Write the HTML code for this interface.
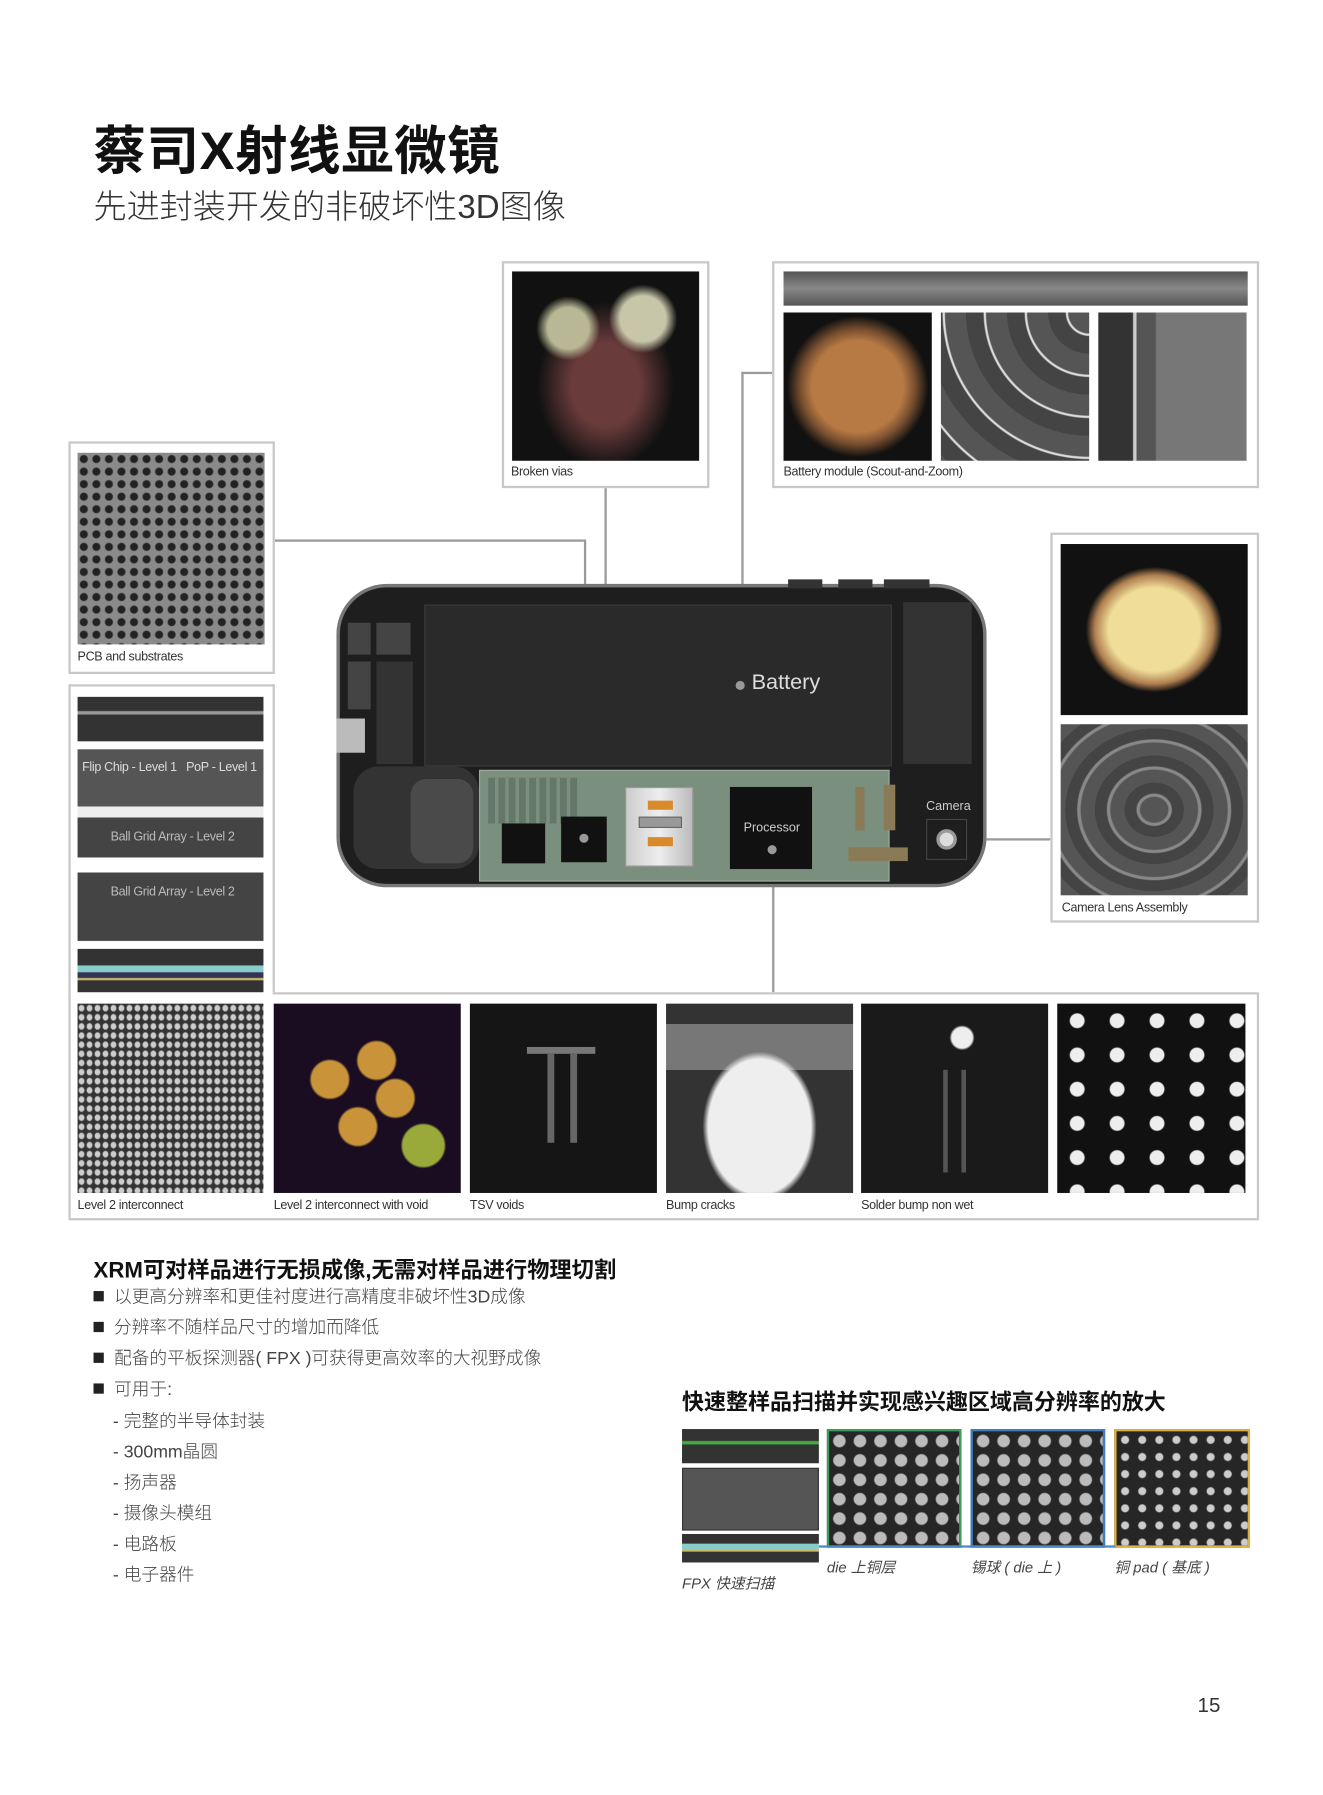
<!DOCTYPE html>
<html><head><meta charset="utf-8">
<style>
*{margin:0;padding:0;box-sizing:border-box}
html,body{width:1323px;height:1795px;overflow:hidden;background:#fff}
#w{position:absolute;left:0;top:0;width:1160px;height:1574px;transform:scale(1.1405);transform-origin:0 0;font-family:"Liberation Sans","Noto Sans CJK SC",sans-serif;color:#222}
.a{position:absolute}
.box{position:absolute;border:2px solid #c8c8c8;background:#fff}
.img{position:absolute;background:#222}
.cap{position:absolute;font-size:11px;color:#333;letter-spacing:-0.3px}
.ln{position:absolute;background:#9a9a9a}
.dot{position:absolute;width:8px;height:8px;border-radius:50%;background:#999}
.dots{background-color:#262626;background-image:radial-gradient(circle,#bbb 0 5px,transparent 6px);background-size:18px 17px}
.b{position:absolute;font-size:15.5px;color:#444;font-weight:300}
.b i{display:inline-block;width:9px;height:9px;background:#222;margin-right:9px;vertical-align:1px}
</style></head><body><div id="w">
<div class="a" style="left:82px;top:96px;font-size:46px;font-weight:bold;color:#111;letter-spacing:0.5px">蔡司X射线显微镜</div>
<div class="a" style="left:82px;top:158px;font-size:29px;font-weight:300;color:#333">先进封装开发的非破坏性3D图像</div>

<!-- connector lines -->
<div class="ln" style="left:240px;top:473px;width:272px;height:1.5px"></div>
<div class="ln" style="left:512px;top:473px;width:1.5px;height:262px"></div>
<div class="ln" style="left:530px;top:427px;width:1.5px;height:260px"></div>
<div class="ln" style="left:650px;top:326px;width:27px;height:1.5px"></div>
<div class="ln" style="left:650px;top:326px;width:1.5px;height:274px"></div>
<div class="ln" style="left:830px;top:735px;width:91px;height:1.5px"></div>
<div class="ln" style="left:677px;top:745px;width:1.5px;height:127px"></div>

<!-- Broken vias -->
<div class="box" style="left:440px;top:229px;width:182px;height:199px"></div>
<div class="img" style="left:449px;top:238px;width:164px;height:166px;background:radial-gradient(circle at 30% 30%,#b9b896 0 18px,transparent 28px),radial-gradient(circle at 70% 25%,#c8c6a8 0 20px,transparent 30px),radial-gradient(ellipse at 50% 60%,#6a3b3b 0 30px,transparent 60px),#111"></div>
<div class="cap" style="left:448px;top:408px">Broken vias</div>

<!-- Battery module -->
<div class="box" style="left:677px;top:229px;width:427px;height:199px"></div>
<div class="img" style="left:687px;top:238px;width:407px;height:30px;background:linear-gradient(#555,#888 50%,#555)"></div>
<div class="img" style="left:687px;top:274px;width:130px;height:130px;background:radial-gradient(ellipse at 50% 50%,#b77a44 0 40px,#7a5030 50px,transparent 62px),#111"></div>
<div class="img" style="left:825px;top:274px;width:130px;height:130px;background:repeating-radial-gradient(circle at 100% 0,#555 0 18px,#ddd 19px 20px,#444 21px 36px)"></div>
<div class="img" style="left:963px;top:274px;width:130px;height:130px;background:linear-gradient(90deg,#333 0 30px,#ccc 31px 33px,#555 34px 50px,#777 51px 130px)"></div>
<div class="cap" style="left:687px;top:408px">Battery module (Scout-and-Zoom)</div>

<!-- PCB -->
<div class="box" style="left:60px;top:387px;width:181px;height:204px"></div>
<div class="img dots" style="left:68px;top:397px;width:164px;height:168px;background-color:#8a8a8a;background-image:radial-gradient(circle,#222 0 3px,transparent 4px);background-size:11px 11px"></div>
<div class="cap" style="left:68px;top:570px">PCB and substrates</div>

<!-- left column + bottom -->
<div class="box" style="left:60px;top:600px;width:181px;height:280px;border-bottom:none"></div>
<div class="box" style="left:60px;top:870px;width:1044px;height:200px"></div>
<div class="a" style="left:62px;top:868px;width:177px;height:4px;background:#fff"></div>
<div class="img" style="left:68px;top:611px;width:163px;height:39px;background:linear-gradient(#333 0 12px,#999 13px 15px,#333 16px)"></div>
<div class="img" style="left:68px;top:657px;width:163px;height:168px;background:linear-gradient(#555 0 50px,#eee 50px 60px,#444 60px 95px,#fff 95px 108px,#444 108px)"></div>
<div class="cap" style="left:72px;top:667px;color:#ddd">Flip Chip - Level 1 &nbsp; PoP - Level 1</div>
<div class="cap" style="left:97px;top:728px;color:#bbb">Ball Grid Array - Level 2</div>
<div class="cap" style="left:97px;top:776px;color:#bbb">Ball Grid Array - Level 2</div>
<div class="img" style="left:68px;top:832px;width:163px;height:38px;background:linear-gradient(#333 0 14px,#8cc 15px 20px,#335 21px 25px,#cb6 26px 27px,#333 28px)"></div>

<div class="img" style="left:68px;top:880px;width:163px;height:166px;background-color:#333;background-image:radial-gradient(ellipse,#ccc 0 2px,transparent 3px);background-size:7px 8px"></div>
<div class="img" style="left:240px;top:880px;width:164px;height:166px;background:radial-gradient(circle at 30% 40%,#c9933a 0 16px,transparent 18px),radial-gradient(circle at 55% 30%,#c9933a 0 16px,transparent 18px),radial-gradient(circle at 45% 65%,#c9933a 0 16px,transparent 18px),radial-gradient(circle at 80% 75%,#9aaa3a 0 18px,transparent 20px),radial-gradient(circle at 65% 50%,#c9933a 0 16px,transparent 18px),#1a0d22"></div>
<div class="img" style="left:412px;top:880px;width:164px;height:166px;background:#151515"><div class="a" style="left:50px;top:38px;width:60px;height:6px;background:#777"></div><div class="a" style="left:68px;top:44px;width:6px;height:78px;background:#666"></div><div class="a" style="left:88px;top:44px;width:6px;height:78px;background:#666"></div></div>
<div class="img" style="left:584px;top:880px;width:164px;height:166px;background:radial-gradient(ellipse at 50% 65%,#eee 0 45px,transparent 50px),linear-gradient(#333 0 18px,#777 18px 58px,#333 58px)"></div>
<div class="img" style="left:755px;top:880px;width:164px;height:166px;background:radial-gradient(circle at 54% 18%,#eee 0 9px,transparent 11px),#1a1a1a"><div class="a" style="left:72px;top:58px;width:4px;height:90px;background:#555"></div><div class="a" style="left:88px;top:58px;width:4px;height:90px;background:#555"></div></div>
<div class="img" style="left:927px;top:880px;width:165px;height:166px;background-color:#111;background-image:radial-gradient(circle,#eee 0 6px,transparent 7px);background-size:35px 30px"></div>
<div class="cap" style="left:68px;top:1051px">Level 2 interconnect</div>
<div class="cap" style="left:240px;top:1051px">Level 2 interconnect with void</div>
<div class="cap" style="left:412px;top:1051px">TSV voids</div>
<div class="cap" style="left:584px;top:1051px">Bump cracks</div>
<div class="cap" style="left:755px;top:1051px">Solder bump non wet</div>

<!-- camera -->
<div class="box" style="left:921px;top:467px;width:183px;height:342px"></div>
<div class="img" style="left:930px;top:477px;width:164px;height:150px;background:radial-gradient(ellipse at 50% 50%,#f0dd99 0 40px,#b08050 52px,transparent 60px),#111"></div>
<div class="img" style="left:930px;top:635px;width:164px;height:150px;background:repeating-radial-gradient(ellipse at 50% 50%,#555 0 12px,#888 13px 15px,#444 16px 26px)"></div>
<div class="cap" style="left:931px;top:790px">Camera Lens Assembly</div>

<!-- phone -->
<div class="a" style="left:295px;top:512px;width:570px;height:266px;border-radius:44px;background:#1e1e1e;border:3px solid #777"></div>
<div class="a" style="left:691px;top:508px;width:30px;height:8px;background:#333"></div>
<div class="a" style="left:735px;top:508px;width:30px;height:8px;background:#333"></div>
<div class="a" style="left:775px;top:508px;width:40px;height:8px;background:#333"></div>
<div class="a" style="left:372px;top:530px;width:410px;height:142px;background:#2a2a2a;border:1px solid #3a3a3a"></div>
<div class="a" style="left:305px;top:546px;width:20px;height:28px;background:#444"></div>
<div class="a" style="left:330px;top:546px;width:30px;height:28px;background:#444"></div>
<div class="a" style="left:305px;top:580px;width:20px;height:42px;background:#444"></div>
<div class="a" style="left:330px;top:580px;width:32px;height:90px;background:#333"></div>
<div class="a" style="left:295px;top:630px;width:25px;height:30px;background:#bbb"></div>
<div class="a" style="left:310px;top:672px;width:110px;height:90px;border-radius:22px;background:#333"></div>
<div class="a" style="left:360px;top:683px;width:55px;height:74px;border-radius:14px;background:#4a4a4a"></div>
<div class="a" style="left:792px;top:528px;width:60px;height:142px;background:#333"></div>
<div class="dot" style="left:645px;top:597px"></div>
<div class="a" style="left:659px;top:588px;font-size:19px;color:#ddd">Battery</div>
<div class="a" style="left:420px;top:675px;width:360px;height:98px;background:#7b8f7e;border:1px solid #9aa99b"></div>
<div class="a" style="left:428px;top:682px;width:80px;height:40px;background-image:linear-gradient(90deg,transparent 6px,#7b8f7e 6px);background-size:9px 6px;background-color:#5c6e5f;opacity:.7"></div>
<div class="a" style="left:440px;top:722px;width:38px;height:35px;background:#111"></div>
<div class="a" style="left:492px;top:716px;width:40px;height:40px;background:#111"></div>
<div class="dot" style="left:508px;top:731px"></div>
<div class="a" style="left:548px;top:690px;width:60px;height:70px;background:linear-gradient(90deg,#ccc,#eee,#bbb);border:1px solid #999"></div>
<div class="a" style="left:568px;top:702px;width:22px;height:8px;background:#d98a2a"></div>
<div class="a" style="left:560px;top:716px;width:38px;height:10px;background:#999;border:1px solid #666"></div>
<div class="a" style="left:568px;top:734px;width:22px;height:8px;background:#d98a2a"></div>
<div class="a" style="left:640px;top:690px;width:72px;height:72px;background:#111"></div>
<div class="a" style="left:652px;top:720px;font-size:11px;color:#ccc">Processor</div>
<div class="dot" style="left:673px;top:741px"></div>
<div class="a" style="left:750px;top:690px;width:8px;height:38px;background:#8a7a55"></div>
<div class="a" style="left:775px;top:688px;width:10px;height:40px;background:#8a7a55"></div>
<div class="a" style="left:744px;top:743px;width:52px;height:12px;background:#8a7a55"></div>
<div class="a" style="left:812px;top:701px;font-size:11px;color:#ccc">Camera</div>
<div class="a" style="left:812px;top:718px;width:36px;height:36px;border:1px solid #444"></div>
<div class="a" style="left:821px;top:727px;width:18px;height:18px;border-radius:50%;background:#ddd;border:3px solid #999"></div>

<!-- text -->
<div class="a" style="left:82px;top:1097px;font-size:19.5px;font-weight:bold;color:#111">XRM可对样品进行无损成像,无需对样品进行物理切割</div>
<div class="b" style="left:82px;top:1125px"><i></i>以更高分辨率和更佳衬度进行高精度非破坏性3D成像</div>
<div class="b" style="left:82px;top:1152px"><i></i>分辨率不随样品尺寸的增加而降低</div>
<div class="b" style="left:82px;top:1179px"><i></i>配备的平板探测器( FPX )可获得更高效率的大视野成像</div>
<div class="b" style="left:82px;top:1206px"><i></i>可用于:</div>
<div class="b" style="left:99px;top:1234px">- 完整的半导体封装</div>
<div class="b" style="left:99px;top:1261px">- 300mm晶圆</div>
<div class="b" style="left:99px;top:1288px">- 扬声器</div>
<div class="b" style="left:99px;top:1315px">- 摄像头模组</div>
<div class="b" style="left:99px;top:1342px">- 电路板</div>
<div class="b" style="left:99px;top:1369px">- 电子器件</div>

<div class="a" style="left:598px;top:1214px;font-size:19.3px;font-weight:bold;color:#111">快速整样品扫描并实现感兴趣区域高分辨率的放大</div>
<div class="img" style="left:598px;top:1253px;width:120px;height:30px;background:linear-gradient(#333 0 10px,#4a4 11px 13px,#333 14px)"></div>
<div class="img" style="left:598px;top:1287px;width:120px;height:55px;background:#555;border:1px solid #333"></div>
<div class="img" style="left:598px;top:1345px;width:120px;height:25px;background:linear-gradient(#333 0 8px,#8cc 9px 13px,#cb6 14px 15px,#333 16px)"></div>
<div class="img dots" style="left:725px;top:1253px;width:118px;height:104px;border:2px solid #3c9c5c"></div>
<div class="img dots" style="left:851px;top:1253px;width:118px;height:104px;border:2px solid #3f7fc0"></div>
<div class="img dots" style="left:977px;top:1253px;width:119px;height:104px;border:2px solid #e0b040;background-image:radial-gradient(circle,#ccc 0 3px,transparent 4px);background-size:15px 15px"></div>
<div class="a" style="left:718px;top:1355px;width:260px;height:2px;background:#4a8acb"></div>
<div class="a" style="left:725px;top:1364px;font-size:13px;font-style:italic;color:#444">die 上铜层</div>
<div class="a" style="left:851px;top:1364px;font-size:13px;font-style:italic;color:#444">锡球 ( die 上 )</div>
<div class="a" style="left:977px;top:1364px;font-size:13px;font-style:italic;color:#444">铜 pad ( 基底 )</div>
<div class="a" style="left:598px;top:1378px;font-size:13px;font-style:italic;color:#444">FPX 快速扫描</div>

<div class="a" style="left:1050px;top:1485px;font-size:18px;color:#333">15</div>
</div></body></html>
